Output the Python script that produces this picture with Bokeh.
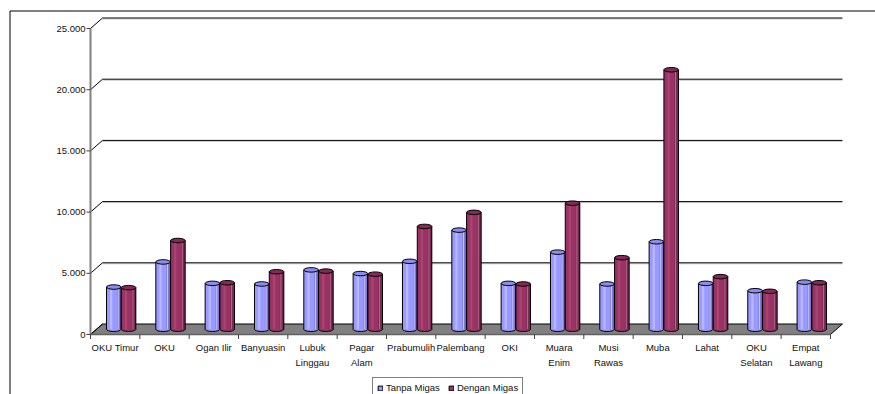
from bokeh.plotting import figure
from bokeh.models import Range1d, Legend, LegendItem
from bokeh.core.properties import value
from bokeh.embed import file_html
from bokeh.resources import INLINE

# ---------------- data ----------------
categories = ["OKU Timur", "OKU", "Ogan Ilir", "Banyuasin", "Lubuk\nLinggau", "Pagar\nAlam",
              "Prabumulih", "Palembang", "OKI", "Muara\nEnim", "Musi\nRawas", "Muba",
              "Lahat", "OKU\nSelatan", "Empat\nLawang"]
tanpa_migas = [3450, 5500, 3750, 3700, 4850, 4550, 5550, 8100, 3750, 6300, 3700, 7150, 3750, 3150, 3850]
dengan_migas = [3400, 7250, 3800, 4700, 4750, 4500, 8400, 9550, 3700, 10300, 5850, 21200, 4300, 3100, 3800]
series_names = ["Tanpa Migas", "Dengan Migas"]
y_ticks = [0, 5000, 10000, 15000, 20000, 25000]
y_tick_labels = ["0", "5.000", "10.000", "15.000", "20.000", "25.000"]

# ---------------- layout ----------------
W, H = 875, 394
X0 = 90.0          # px of front x-axis start
CAT = 49.33        # px per category
Y0 = 334.0         # px (from top) of front zero line
VPX = 306.0 / 25000  # px per value unit
FONT_NAME = "Liberation Sans"
FONT = value(FONT_NAME)

def xd(px):
    return (px - X0) / CAT

def yd(py):
    return (Y0 - py) / VPX

def dxu(px):
    return px / CAT

def dyu(px):
    return px / VPX

N = len(categories)
DX = dxu(12)
DY = dyu(10.5)

p = figure(width=W, height=H, output_backend="svg", toolbar_location=None,
           x_range=Range1d(xd(0), xd(W)), y_range=Range1d(yd(H), yd(0)),
           x_axis_location=None, y_axis_location=None, min_border=0,
           outline_line_color=None, background_fill_color="white",
           border_fill_color="white")
p.grid.visible = False

# outer chart border (top and left)
p.segment(x0=[xd(9.5), xd(9.5)], y0=[yd(10.5), yd(10.5)], x1=[xd(W + 5), xd(9.5)],
          y1=[yd(10.5), yd(H + 5)], line_color="black", line_width=1)

# back wall gridlines
gv = y_ticks[1:]
p.segment(x0=[DX] * len(gv), y0=[v + DY - dyu(1) for v in gv], x1=[N + DX] * len(gv),
          y1=[v + DY - dyu(1) for v in gv], line_color="#c8c8c8", line_width=1)
p.segment(x0=[DX] * len(gv), y0=[v + DY for v in gv], x1=[N + DX] * len(gv),
          y1=[v + DY for v in gv], line_color="black", line_width=1)

# floor
p.patch(x=[0, N, N + DX, DX], y=[0, 0, DY, DY], fill_color="#808080",
        line_color="black", line_width=1)

# diagonal connectors from y-axis to back wall
p.segment(x0=[0] * len(y_ticks), y0=y_ticks, x1=[DX] * len(y_ticks),
          y1=[v + DY for v in y_ticks], line_color="black", line_width=1)

# y axis
p.segment(x0=[0], y0=[0], x1=[0], y1=[y_ticks[-1]], line_color="#808080", line_width=2)
p.segment(x0=[xd(86)] * len(y_ticks), y0=y_ticks, x1=[0] * len(y_ticks), y1=y_ticks,
          line_color="#404040", line_width=1)
p.text(x=[xd(85)] * len(y_ticks), y=y_ticks, text=y_tick_labels, text_align="right",
       text_baseline="middle", text_font=FONT, text_font_size="9.5px", text_color="#111111")

# x axis
p.segment(x0=[0], y0=[0], x1=[N], y1=[0], line_color="#606060", line_width=1.5)
p.segment(x0=list(range(N + 1)), y0=[0] * (N + 1), x1=list(range(N + 1)),
          y1=[yd(338.5)] * (N + 1), line_color="#404040", line_width=1)
p.text(x=[i + 0.5 for i in range(N)], y=[yd(341)] * N, text=categories, text_align="center",
       text_baseline="top", text_font=FONT, text_font_size="9.5px", text_color="#111111",
       text_line_height=1.45)

# cylinders
BW = 0.295
EH = dyu(4.5)
styles = [
    dict(vals=tanpa_migas, off=-0.15, body="#9999FF", light="#B8B8FF", dark="#7B7BD6", top="#8C8CF0", spec="#C8C8FF"),
    dict(vals=dengan_migas, off=0.15, body="#993366", light="#A8456F", dark="#7A2850", top="#852A57", spec="#B86A8E"),
]
legend_renderers = []
for s in styles:
    cx = [i + 0.5 + DX / 2 + s["off"] for i in range(N)]
    base = DY / 2
    tops = [v + DY / 2 for v in s["vals"]]
    p.ellipse(x=cx, y=[base] * N, width=BW, height=EH, fill_color=s["body"],
              line_color="black", line_width=1)
    p.vbar(x=cx, bottom=base, top=tops, width=BW, fill_color=s["body"], line_color=None)
    p.vbar(x=[c - BW * 0.18 for c in cx], bottom=base, top=tops, width=BW * 0.16,
           fill_color=s["light"], line_color=None)
    p.vbar(x=[c + BW * 0.36 for c in cx], bottom=base, top=tops, width=BW * 0.28,
           fill_color=s["dark"], line_color=None)
    p.segment(x0=[c + BW * 0.3 for c in cx], y0=[base] * N, x1=[c + BW * 0.3 for c in cx],
              y1=tops, line_color=s["spec"], line_width=1)
    p.segment(x0=[c - BW / 2 for c in cx] + [c + BW / 2 for c in cx], y0=[base] * (2 * N),
              x1=[c - BW / 2 for c in cx] + [c + BW / 2 for c in cx], y1=tops + tops,
              line_color="black", line_width=1)
    p.ellipse(x=cx, y=tops, width=BW, height=EH, fill_color=s["top"],
              line_color="black", line_width=1)
    r = p.vbar(x=cx, bottom=base, top=tops, width=BW, fill_color=s["body"],
               line_color="black", line_width=1, visible=False)
    legend_renderers.append(r)

legend = Legend(items=[LegendItem(label=n, renderers=[r]) for n, r in zip(series_names, legend_renderers)],
                location=(372, -4), orientation="horizontal", glyph_width=6, glyph_height=6,
                label_text_font=FONT_NAME, label_text_font_size="9.5px", label_standoff=3,
                spacing=8, padding=4, margin=0, border_line_color="black", border_line_width=1,
                background_fill_color="white", background_fill_alpha=1.0,
                label_height=8, label_text_color="#111111")
p.add_layout(legend, "center")

open("out.html", "w").write(file_html(p, INLINE))
